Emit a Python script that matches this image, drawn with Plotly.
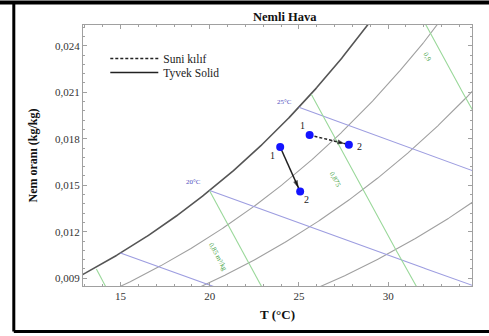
import numpy as np
import plotly.graph_objects as go

# ---- chart data ----
P_ATM = 101.325  # kPa
rh_levels = [1.0, 0.8, 0.6, 0.4]
wet_bulb_levels = [15, 20, 25]
wet_bulb_labels = ["", "20°C", "25°C"]
wet_bulb_label_T = [None, 19.1, 24.2]
wet_bulb_label_w = [None, 0.01520, 0.02035]
volume_levels = [0.825, 0.85, 0.875, 0.9]
volume_labels = ["", "0,85 m³/kg", "0,875", "0,9"]
volume_label_T = [None, 20.45, 27.05, 32.2]
volume_label_w = [None, 0.01035, 0.01535, 0.02330]

series_names = ["Suni kılıf", "Tyvek Solid"]
suni_T = [25.6, 27.8]
suni_w = [0.01824, 0.01762]
tyvek_T = [23.95, 25.07]
tyvek_w = [0.01747, 0.01459]
point_labels = ["1", "2"]
suni_label_T = [25.18, 28.4]
suni_label_w = [0.01885, 0.01752]
tyvek_label_T = [23.5, 25.45]
tyvek_label_w = [0.01690, 0.01405]

x_ticks = [15, 20, 25, 30]
y_ticks = [0.009, 0.012, 0.015, 0.018, 0.021, 0.024]
x_range = [12.9, 34.7]
y_range = [0.0085, 0.02534]

FONT = "Liberation Serif"


def p_ws(T):
    return 0.61094 * np.exp(17.625 * T / (T + 243.04))


def w_rh(T, phi):
    pw = phi * p_ws(T)
    return 0.622 * pw / (P_ATM - pw)


def w_wetbulb(T, twb):
    ws = w_rh(twb, 1.0)
    return ((2501 - 2.326 * twb) * ws - 1.006 * (T - twb)) / (2501 + 1.86 * T - 4.186 * twb)


def w_volume(T, v):
    return (v * P_ATM / (0.287042 * (T + 273.15)) - 1) / 1.6078


fig = go.Figure()
T_grid = np.linspace(5, 45, 801)

# relative humidity curves
for phi in rh_levels:
    fig.add_trace(go.Scatter(
        x=T_grid, y=w_rh(T_grid, phi), mode="lines", showlegend=False, hoverinfo="skip",
        line=dict(color="#555555" if phi == 1.0 else "#a0a0a0", width=1.6 if phi == 1.0 else 1.1)))

# wet-bulb lines
for twb in wet_bulb_levels:
    Tg = np.linspace(twb, 45, 401)
    fig.add_trace(go.Scatter(
        x=Tg, y=w_wetbulb(Tg, twb), mode="lines", showlegend=False, hoverinfo="skip",
        line=dict(color="#9d9de0", width=1.1)))

# specific volume lines
for v in volume_levels:
    wv = w_volume(T_grid, v)
    mask = (wv <= w_rh(T_grid, 1.0)) & (wv >= 0)
    fig.add_trace(go.Scatter(
        x=T_grid[mask], y=wv[mask], mode="lines", showlegend=False, hoverinfo="skip",
        line=dict(color="#9ad89a", width=1.1)))

# data series
for name, Ts, ws, dash, leg in [(series_names[0], suni_T, suni_w, "3px,2px", "legend"),
                                (series_names[1], tyvek_T, tyvek_w, "solid", "legend2")]:
    fig.add_trace(go.Scatter(
        x=Ts, y=ws, mode="lines", name=name, legend=leg,
        line=dict(color="#222222", width=1.5, dash=dash)))
    fig.add_trace(go.Scatter(
        x=Ts, y=ws, mode="markers", showlegend=False, hoverinfo="skip",
        marker=dict(symbol="arrow", size=[0, 8], color="#111111",
                    angleref="previous", standoff=4, line=dict(width=0))))
    fig.add_trace(go.Scatter(
        x=Ts, y=ws, mode="markers", showlegend=False,
        marker=dict(symbol="circle", size=8, color="#1414ff", line=dict(width=0))))

annotations = []
for lbl, tx, wy in zip(wet_bulb_labels, wet_bulb_label_T, wet_bulb_label_w):
    if lbl:
        annotations.append(dict(x=tx, y=wy, text=lbl, showarrow=False,
                                font=dict(family=FONT, size=7, color="#5050c0")))
for lbl, tx, wy in zip(volume_labels, volume_label_T, volume_label_w):
    if lbl:
        annotations.append(dict(x=tx, y=wy, text=lbl, showarrow=False, textangle=62,
                                font=dict(family=FONT, size=7, color="#40a040")))
for Ts, ws in [(suni_label_T, suni_label_w), (tyvek_label_T, tyvek_label_w)]:
    for lbl, tx, wy in zip(point_labels, Ts, ws):
        annotations.append(dict(x=tx, y=wy, text=lbl, showarrow=False,
                                font=dict(family=FONT, size=10, color="#222222")))
annotations.append(dict(xref="paper", yref="paper", x=0.52, y=1.0, yanchor="bottom",
                        text="<b>Nemli Hava</b>", showarrow=False, yshift=-1,
                        font=dict(family=FONT, size=12.5, color="#111111")))

axis_common = dict(
    showgrid=False, zeroline=False, showline=True, linecolor="#a0a0a0", linewidth=1,
    mirror="ticks", ticks="inside", ticklen=4, tickcolor="#a0a0a0",
    tickfont=dict(family=FONT, size=11, color="#333333"),
)

legend_common = dict(xanchor="left", yanchor="top", bgcolor="rgba(0,0,0,0)", itemwidth=48,
                     font=dict(family=FONT, size=11.5, color="#222222"))

frame = dict(color="black", width=3)

fig.update_layout(
    width=489, height=336,
    margin=dict(l=83, r=17, t=25, b=50),
    paper_bgcolor="white", plot_bgcolor="white",
    separators=",.",
    font=dict(family=FONT, color="#222222"),
    xaxis=dict(range=x_range, tickvals=x_ticks, **axis_common,
               minor=dict(dtick=1, ticks="inside", ticklen=2, tickcolor="#a0a0a0"),
               title=dict(text="<b>T (°C)</b>", font=dict(family=FONT, size=13, color="#111111"),
                          standoff=8)),
    yaxis=dict(range=y_range, tickvals=y_ticks, tickformat=".3f", **axis_common,
               minor=dict(tick0=0.009, dtick=0.0006, ticks="inside", ticklen=2, tickcolor="#a0a0a0"),
               title=dict(text="<b>Nem oranı (kg/kg)</b>",
                          font=dict(family=FONT, size=12, color="#111111"), standoff=14)),
    legend=dict(x=0.0573, y=0.927, **legend_common),
    legend2=dict(x=0.0573, y=0.874, **legend_common),
    annotations=annotations,
    shapes=[
        # top bar (full width)
        dict(type="line", xref="paper", yref="paper", x0=-0.22, x1=1.06, y0=1.0862, y1=1.0862,
             line=dict(color="black", width=4)),
        # left bar
        dict(type="line", xref="paper", yref="paper", x0=-0.1779, x1=-0.1779, y0=1.0862, y1=-0.174,
             line=frame),
        # bottom bar
        dict(type="line", xref="paper", yref="paper", x0=-0.1779, x1=1.06, y0=-0.174, y1=-0.174,
             line=frame),
    ],
)

fig.write_html("out.html", config={"displayModeBar": False},
               post_script="document.body.style.margin='0';")
